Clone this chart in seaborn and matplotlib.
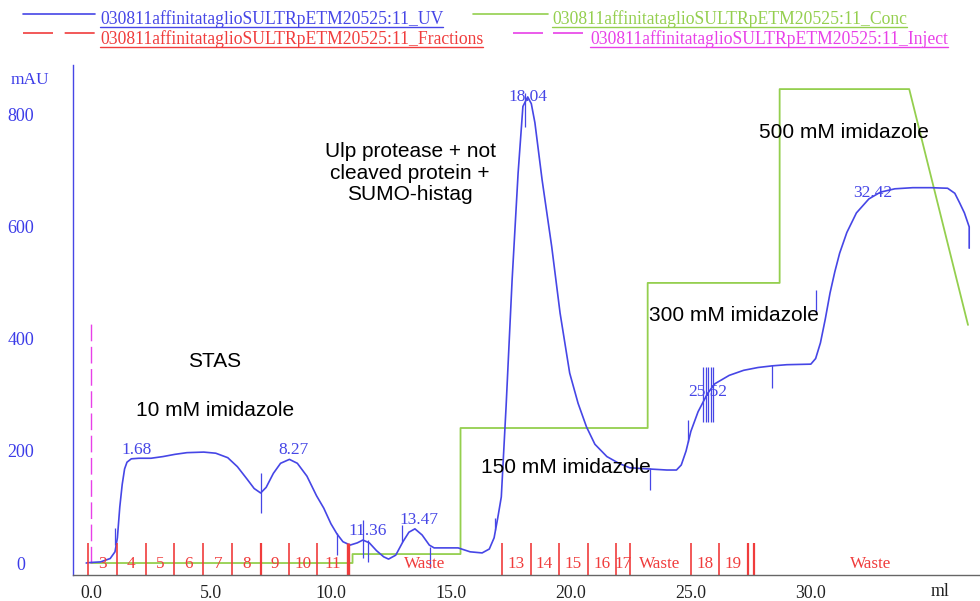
import numpy as np
import pandas as pd
import matplotlib
matplotlib.use("Agg")
import matplotlib.pyplot as plt
import seaborn as sns
from matplotlib.lines import Line2D

# ---------------- data ----------------
uv_ml = [-0.2, 0.0, 0.4, 0.8, 1.0, 1.1, 1.2, 1.3, 1.4, 1.5, 1.68, 2.0, 2.5, 3.0, 3.5, 4.0, 4.7,
         5.2, 5.7, 6.1, 6.5, 6.8, 7.07, 7.3, 7.6, 7.9, 8.27, 8.6, 9.0, 9.4, 9.7, 10.0, 10.25,
         10.5, 10.8, 11.1, 11.33, 11.6, 11.9, 12.2, 12.4, 12.7, 13.0, 13.25, 13.5, 13.8, 14.1,
         14.3, 15.0, 15.3, 15.8, 16.3, 16.6, 16.8, 16.95, 17.1, 17.3, 17.55, 17.8, 18.0, 18.2,
         18.35, 18.5, 18.8, 19.2, 19.55, 19.95, 20.3, 20.65, 21.0, 21.5, 22.0, 22.45, 23.2,
         24.0, 24.4, 24.6, 24.8, 25.0, 25.3, 25.7, 26.0, 26.6, 27.2, 27.8, 28.4, 29.0, 30.0,
         30.2, 30.4, 30.6, 30.8, 31.0, 31.2, 31.5, 31.9, 32.42, 32.9, 33.5, 34.25, 35.0, 35.7,
         36.0, 36.2, 36.4, 36.6, 36.6]
uv_mau = [0, 1, 2, 8, 20, 45, 100, 140, 168, 180, 186, 187, 187, 190, 194, 197, 198,
          196, 188, 172, 150, 133, 125, 135, 160, 178, 185, 178, 155, 120, 98, 70, 52,
          38, 32, 36, 41, 36, 22, 11, 7, 14, 38, 55, 61, 50, 32,
          27, 27, 27, 20, 18, 25, 45, 80, 118, 280, 505, 696, 815, 832,
          820, 786, 684, 565, 446, 339, 285, 243, 212, 190, 178, 170, 168,
          166, 166, 175, 200, 235, 270, 303, 320, 335, 344, 349, 352, 354, 355,
          365, 393, 435, 482, 520, 553, 590, 625, 650, 662, 668, 670, 670, 669,
          660, 643, 625, 600, 562]

conc_ml = [0.0, 10.9, 10.9, 15.4, 15.4, 23.2, 23.2, 28.7, 28.7, 34.1, 36.55]
conc_val = [0, 0, 16, 16, 241, 241, 500, 500, 846, 846, 425]

inject_ml = [0.0, 0.0]
inject_val = [0, 434]

frac_pos = [-0.11, 1.07, 2.28, 3.47, 4.68, 5.89, 7.07, 8.26, 9.43, 10.7, 17.11, 18.32,
            19.51, 20.72, 21.9, 22.46, 24.99, 26.18, 27.39, 27.64]
frac_width = [1.2, 1.2, 1.2, 1.2, 1.2, 1.2, 1.6, 1.2, 1.2, 2.4, 1.2, 1.2,
              1.2, 1.2, 1.2, 1.2, 1.2, 1.2, 1.6, 1.6]
frac_labels = ['3', '4', '5', '6', '7', '8', '9', '10', '11', 'Waste', '13', '14', '15',
               '16', '17', 'Waste', '18', '19', 'Waste']
frac_label_pos = [0.48, 1.67, 2.87, 4.07, 5.28, 6.48, 7.66, 8.84, 10.06, 13.9, 17.7, 18.9,
                  20.1, 21.3, 22.18, 23.72, 25.58, 26.78, 32.5]

mark_ml = [1.0, 7.07, 10.25, 11.33, 11.55, 12.96, 14.12, 16.83, 18.08, 23.3, 24.9,
           25.49, 25.61, 25.72, 25.83, 25.93, 28.4, 30.2]
mark_lo = [32, 89, 14, 9, 2, 38, -9, 59, 779, 130, 216, 252, 252, 252, 252, 252, 313, 446]
mark_hi = [62, 161, 54, 77, 41, 68, 29, 80, 839, 170, 255, 350, 350, 350, 350, 350, 354, 487]

peak_text = ['1.68', '8.27', '11.36', '13.47', '18.04', '25.52', '32.42']
peak_x = [1.9, 8.46, 11.55, 13.67, 18.2, 25.7, 32.6]
peak_y = [202, 202, 57, 77, 832, 305, 660]

note_text = ['STAS', '10 mM imidazole', 'Ulp protease + not\ncleaved protein +\nSUMO-histag',
             '150 mM imidazole', '300 mM imidazole', '500 mM imidazole']
note_x = [5.17, 5.17, 13.3, 19.8, 26.8, 31.4]
note_y = [359, 273, 696, 171, 441, 768]

legend_labels = ['030811affinitataglioSULTRpETM20525:11_UV',
                 '030811affinitataglioSULTRpETM20525:11_Conc',
                 '030811affinitataglioSULTRpETM20525:11_Fractions',
                 '030811affinitataglioSULTRpETM20525:11_Inject']

x_ticks = [0, 5, 10, 15, 20, 25, 30, 35]
x_ticklabels = ['0.0', '5.0', '10.0', '15.0', '20.0', '25.0', '30.0', '']
y_ticks = [0, 200, 400, 600, 800]

# ---------------- style ----------------
C_UV = '#4646e6'
C_CONC = '#94cf4e'
C_FRAC = '#f03c3c'
C_INJ = '#e840e8'
C_TICK = '#3c3ce8'

sns.set_style("white")
plt.rcParams['font.family'] = ['Liberation Serif', 'DejaVu Serif']

W, H = 980, 601
fig = plt.figure(figsize=(W / 100, H / 100), dpi=100)
ax = fig.add_axes([73 / W, 1 - 575 / H, (980 - 73) / W, (575 - 65) / H])

uv_df = pd.DataFrame({'ml': uv_ml, 'mAU': uv_mau})
conc_df = pd.DataFrame({'ml': conc_ml, 'val': conc_val})
inj_df = pd.DataFrame({'ml': inject_ml, 'val': inject_val})

sns.lineplot(data=conc_df, x='ml', y='val', ax=ax, color=C_CONC, lw=1.3,
             sort=False, estimator=None)
sns.lineplot(data=inj_df, x='ml', y='val', ax=ax, color=C_INJ, lw=1.0,
             sort=False, estimator=None, dashes=False)
ax.lines[-1].set_linestyle((0, (12, 4)))
sns.lineplot(data=uv_df, x='ml', y='mAU', ax=ax, color=C_UV, lw=1.2,
             sort=False, estimator=None)

# fraction marks
for p, w in zip(frac_pos, frac_width):
    ax.vlines(p, -22, 36, color=C_FRAC, lw=w)
for t, p in zip(frac_labels, frac_label_pos):
    ax.text(p, -2, t, color=C_FRAC, fontsize=12.3, ha='center', va='center')

# UV log marks
ax.vlines(mark_ml, mark_lo, mark_hi, color=C_UV, lw=0.9)

# peak labels
for t, x, y in zip(peak_text, peak_x, peak_y):
    ax.text(x, y, t, color=C_UV, fontsize=12.5, ha='center', va='center')

# annotations
for t, x, y in zip(note_text, note_x, note_y):
    ax.text(x, y, t, color='black', fontsize=15, ha='center', va='center',
            family=['Liberation Sans', 'DejaVu Sans'], linespacing=1.15)

# axes
ax.set_xlim(-0.75, 37.05)
ax.set_ylim(-21.4, 889)
ax.set_xlabel('')
ax.set_ylabel('')
for s in ['top', 'right']:
    ax.spines[s].set_visible(False)
ax.spines['left'].set_color(C_UV)
ax.spines['left'].set_linewidth(1.0)
ax.spines['bottom'].set_color('#666666')
ax.spines['bottom'].set_linewidth(1.0)

ax.set_xticks(x_ticks)
ax.set_xticklabels(x_ticklabels)
ax.set_xticks([2.5, 7.5, 12.5, 17.5, 22.5, 27.5, 32.5], minor=True)
ax.set_yticks(y_ticks)
ax.set_yticklabels([str(v) for v in y_ticks])
ax.set_yticks([100, 300, 500, 700], minor=True)
ax.tick_params(axis='x', which='major', direction='out', length=4, width=1,
               color='#666666', labelsize=12.8, labelcolor='#222222', pad=3)
ax.tick_params(axis='x', which='minor', direction='out', length=2, width=1, color='#666666')
ax.tick_params(axis='y', which='major', direction='out', length=5, width=1,
               color=C_UV, labelsize=13, labelcolor=C_TICK, pad=32.4)
ax.tick_params(axis='y', which='minor', direction='out', length=2, width=1, color=C_UV)
for lab in ax.get_yticklabels():
    lab.set_horizontalalignment('center')
ax.text(35.4, -0.033, 'ml', transform=ax.get_xaxis_transform(), ha='center', va='center',
        fontsize=12.8, color='#222222')
ax.grid(False)

fig.text(30 / W, 1 - 80 / H, 'mAU', color=C_TICK, fontsize=12.5, ha='center', va='center')

# ---------------- legend (drawn at top) ----------------
leg_specs = [
    (legend_labels[0], C_UV, (23, 95), 14, 100, 19, 27, '-'),
    (legend_labels[1], C_CONC, (473, 548), 14, 552, 19, 27, '-'),
    (legend_labels[2], C_FRAC, (23, 95), 33, 100, 39, 47, (0, (18, 7))),
    (legend_labels[3], C_INJ, (513, 583), 33, 590, 39, 47, (0, (18, 6))),
]
texts = []
for lab, col, (hx0, hx1), hy, tx, ty, uy, ls in leg_specs:
    fig.add_artist(Line2D([hx0 / W, hx1 / W], [1 - hy / H, 1 - hy / H],
                          transform=fig.transFigure, color=col, lw=1.2, linestyle=ls))
    t = fig.text(tx / W, 1 - ty / H, lab, color=col, fontsize=12.7, ha='left', va='center')
    texts.append((t, uy, col))

fig.canvas.draw()
r = fig.canvas.get_renderer()
for t, uy, col in texts:
    bb = t.get_window_extent(r)
    fig.add_artist(Line2D([bb.x0 / W, bb.x1 / W], [1 - uy / H, 1 - uy / H],
                          transform=fig.transFigure, color=col, lw=1.0))

fig.savefig('out.png', dpi=100)
